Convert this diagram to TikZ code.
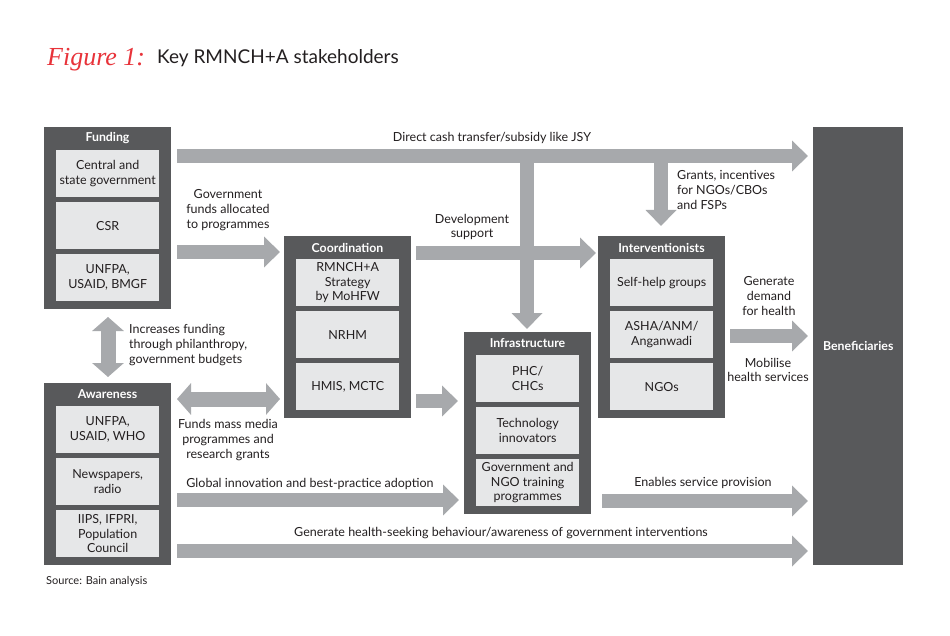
\documentclass[tikz,border=0pt]{standalone}
\usepackage{fontspec}
\setmainfont{Lato}
\newfontfamily\figfam{Liberation Serif}
\usetikzlibrary{arrows.meta}
\definecolor{boxdark}{HTML}{58595B}
\definecolor{innergray}{HTML}{E6E7E8}
\definecolor{arrowgray}{HTML}{A7A9AC}
\definecolor{textdark}{HTML}{231F20}
\definecolor{figred}{HTML}{E8333A}
\newcommand\dgbody{\fontsize{12.5}{14.7}\selectfont}
\newcommand\dghead{\fontsize{12.3}{14}\selectfont\bfseries}
\newcommand\stakebox[7]{%
  \node[outerbox] (#1) at (#2,#3) {};
  \node[boxtitle] (#1-t) at (#2+63.5,#3+11.5) {#4};
  \node[innerbox] (#1-a) at (#2+12,#3+23) {#5};
  \node[innerbox] (#1-b) at (#2+12,#3+75) {#6};
  \node[innerbox] (#1-c) at (#2+12,#3+127) {#7};
}
\begin{document}
\begin{tikzpicture}[x=1pt,y=-1pt,
  outerbox/.style={fill=boxdark, draw=none, minimum width=127pt, minimum height=182pt, anchor=north west, inner sep=0pt},
  innerbox/.style={fill=innergray, draw=none, minimum width=103pt, minimum height=47pt, anchor=north west, inner sep=0pt, align=center, font=\dgbody, text=textdark},
  boxtitle/.style={text=white, font=\dghead, inner sep=0pt},
  lbl/.style={font=\dgbody, text=textdark, align=center, inner sep=0pt},
  bigarrow/.style={draw=arrowgray, line width=14pt, -{Triangle[width=30pt 0 0, length=16pt 0 0]}},
  dblarrow/.style={draw=arrowgray, line width=15pt, {Triangle[width=31pt 0 0, length=14pt 0 0]}-{Triangle[width=31pt 0 0, length=14pt 0 0]}}
]
\useasboundingbox[fill=white] (0,0) rectangle (950,636);

% title
\node[anchor=base west, inner sep=0pt, text=figred, font=\figfam\itshape\fontsize{26}{28}\selectfont] (fig) at (47,66) {Figure 1:};
\node[anchor=base west, inner sep=0pt, text=textdark, font=\fontsize{19}{21}\selectfont] (ttl) at (157,64) {Key RMNCH+A stakeholders};

% stakeholder boxes
\stakebox{fund}{44}{127}{Funding}{Central and\\state government}{CSR}{UNFPA,\\USAID, BMGF}
\stakebox{aware}{44}{383}{Awareness}{UNFPA,\\USAID, WHO}{Newspapers,\\radio}{IIPS, IFPRI,\\Population\\Council}
\stakebox{coord}{284}{236}{Coordination}{RMNCH+A\\Strategy\\by MoHFW}{NRHM}{HMIS, MCTC}
\stakebox{infra}{464}{332}{Infrastructure}{PHC/\\CHCs}{Technology\\innovators}{Government and\\NGO training\\programmes}
\stakebox{interv}{598}{236}{Interventionists}{Self-help groups}{ASHA/ANM/\\Anganwadi}{NGOs}
\node[fill=boxdark, draw=none, minimum width=90pt, minimum height=438pt, anchor=north west, inner sep=0pt] (benef) at (813,127) {};
\node[boxtitle] (benef-t) at (benef.center) {Beneficiaries};

% arrow end points
\coordinate (dA) at (177,156);  \coordinate (dB) at (808,156);
\coordinate (vA) at (527,156);  \coordinate (vB) at (527,329);
\coordinate (gA) at (661,156);  \coordinate (gB) at (661,226);
\coordinate (fA) at (177,252);  \coordinate (fB) at (280,252);
\coordinate (sA) at (416,253);  \coordinate (sB) at (596,253);
\coordinate (iA) at (108,317);  \coordinate (iB) at (108,377);
\coordinate (mA) at (177,399);  \coordinate (mB) at (280,399);
\coordinate (cA) at (416,401);  \coordinate (cB) at (458,401);
\coordinate (bA) at (177,500);  \coordinate (bB) at (459,500);
\coordinate (eA) at (602,501);  \coordinate (eB) at (808,501);
\coordinate (hA) at (177,551);  \coordinate (hB) at (808,551);
\coordinate (kA) at (730,336);  \coordinate (kB) at (808,336);

% arrows
\draw[bigarrow] (dA) -- (dB);
\draw[bigarrow] (vA) -- (vB);
\draw[bigarrow] (gA) -- (gB);
\draw[bigarrow] (fA) -- (fB);
\draw[bigarrow] (sA) -- (sB);
\draw[dblarrow] (iA) -- (iB);
\draw[dblarrow] (mA) -- (mB);
\draw[bigarrow] (cA) -- (cB);
\draw[bigarrow] (bA) -- (bB);
\draw[bigarrow] (eA) -- (eB);
\draw[bigarrow] (hA) -- (hB);
\draw[bigarrow] (kA) -- (kB);

% labels
\node[lbl] (l1) at (492,138) {Direct cash transfer/subsidy like JSY};
\node[lbl] (l2) at (228,210) {Government\\funds allocated\\to programmes};
\node[lbl] (l3) at (472,227) {Development\\support};
\node[lbl, anchor=west, align=left] (l4) at (677,190) {Grants, incentives\\for NGOs/CBOs\\and FSPs};
\node[lbl] (l5) at (769,296) {Generate\\demand\\for health};
\node[lbl] (l6) at (768,370) {Mobilise\\health services};
\node[lbl, anchor=west, align=left] (l7) at (129,345) {Increases funding\\through philanthropy,\\government budgets};
\node[lbl] (l8) at (228,440) {Funds mass media\\programmes and\\research grants};
\node[lbl] (l9) at (310,484) {Global innovation and best-practice adoption};
\node[lbl] (l10) at (703,483) {Enables service provision};
\node[lbl] (l11) at (501,533) {Generate health-seeking behaviour/awareness of government interventions};
\node[anchor=west, inner sep=0pt, text=textdark, font=\fontsize{11}{13}\selectfont] (src) at (46,581) {Source: Bain analysis};
\end{tikzpicture}
\end{document}
